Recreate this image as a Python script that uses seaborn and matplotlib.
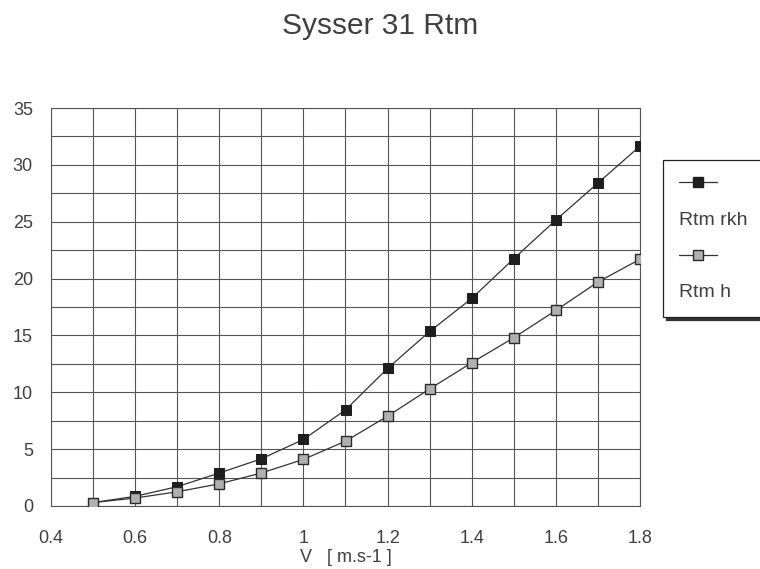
import numpy as np
import pandas as pd
import matplotlib
matplotlib.use("Agg")
import matplotlib.pyplot as plt
from matplotlib.lines import Line2D
import seaborn as sns

# ---- data ----
velocity = [0.5, 0.6, 0.7, 0.8, 0.9, 1.0, 1.1, 1.2, 1.3, 1.4, 1.5, 1.6, 1.7, 1.8]
rtm_rkh = [0.3, 0.85, 1.7, 2.9, 4.15, 5.85, 8.45, 12.1, 15.35, 18.25, 21.75, 25.15, 28.4, 31.65]
rtm_h = [0.3, 0.7, 1.25, 1.95, 2.9, 4.1, 5.7, 7.9, 10.3, 12.6, 14.8, 17.2, 19.7, 21.7]
series_names = ["Rtm rkh", "Rtm h"]
x_ticks = [0.4, 0.6, 0.8, 1.0, 1.2, 1.4, 1.6, 1.8]
x_tick_labels = ["0.4", "0.6", "0.8", "1", "1.2", "1.4", "1.6", "1.8"]
y_ticks = [0, 5, 10, 15, 20, 25, 30, 35]
title = "Sysser 31 Rtm"
x_label = "V   [ m.s-1 ]"

sns.set_style("white")
plt.rcParams['font.family'] = ['Liberation Sans', 'DejaVu Sans']

ink = "#404040"
grid_c = "#555555"

fig = plt.figure(figsize=(7.6, 5.69), dpi=100)
ax = fig.add_axes([51/760, 1-506/569, (640-51)/760, (506-108)/569])

sns.lineplot(x=velocity, y=rtm_rkh, ax=ax, color="#333333", linewidth=0.9,
             marker="s", markersize=6.5, markerfacecolor="#1e1e1e",
             markeredgecolor="#1e1e1e", zorder=5, label=None)
sns.lineplot(x=velocity, y=rtm_h, ax=ax, color="#333333", linewidth=0.9,
             marker="s", markersize=6.5, markerfacecolor="#b0b0b0",
             markeredgecolor="#2a2a2a", markeredgewidth=1.0, zorder=5, label=None)
if ax.get_legend() is not None:
    ax.get_legend().remove()

ax.set_xlim(0.4, 1.8)
ax.set_ylim(0, 35)
ax.set_xticks(x_ticks)
ax.set_xticklabels(x_tick_labels)
ax.set_xticks(np.arange(0.5, 1.8, 0.1), minor=True)
ax.set_yticks(y_ticks)
ax.set_yticks(np.arange(2.5, 35, 2.5), minor=True)
ax.grid(True, which="both", color=grid_c, linewidth=0.8)
ax.tick_params(which="major", direction="out", length=4, width=0.8,
               color=grid_c, labelsize=13, labelcolor=ink)
ax.tick_params(which="minor", length=0)
ax.tick_params(axis="x", pad=13)
ax.tick_params(axis="y", pad=9)
for s in ax.spines.values():
    s.set_color(grid_c)
    s.set_linewidth(0.8)
ax.set_xlabel(x_label, fontsize=13, color=ink, labelpad=2)
ax.set_ylabel("")

fig.text(380/760, 1-26/569, title, ha="center", va="center", fontsize=21.5, color=ink)

h1 = Line2D([], [], color="#333333", linewidth=0.9, marker="s", markersize=6.5,
            markerfacecolor="#1e1e1e", markeredgecolor="#1e1e1e")
h2 = Line2D([], [], color="#333333", linewidth=0.9, marker="s", markersize=6.5,
            markerfacecolor="#b0b0b0", markeredgecolor="#2a2a2a")
blank = Line2D([], [], linestyle="none")
leg = fig.legend([h1, blank, h2, blank], ["", series_names[0], "", series_names[1]],
                 loc="upper left", bbox_to_anchor=(663/760, 1-160/569-0.01, 120/760, 0.01),
                 mode="expand",
                 bbox_transform=fig.transFigure, borderaxespad=0,
                 fontsize=14, handlelength=2.0, handletextpad=-2.0,
                 borderpad=0.8, labelspacing=0.95, frameon=True, fancybox=False,
                 shadow={"color": "#333333", "alpha": 1.0}, framealpha=1)
leg.get_frame().set_edgecolor("#222222")
leg.get_frame().set_linewidth(0.9)
for t in leg.get_texts():
    t.set_color(ink)

fig.savefig("out.png", dpi=100)
